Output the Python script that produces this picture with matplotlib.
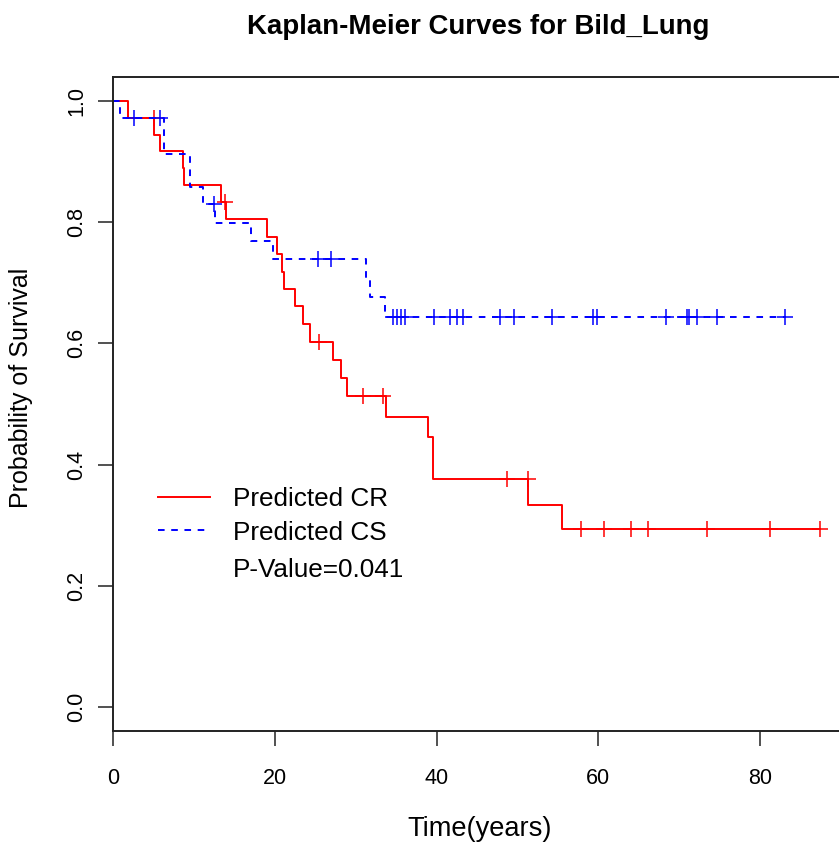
import matplotlib
matplotlib.use('Agg')
import matplotlib.pyplot as plt
from matplotlib.lines import Line2D
import numpy as np

plt.rcParams['font.family'] = ['Liberation Sans', 'DejaVu Sans']

# Predicted CR (red, solid): step times and survival after each step
cr_times = [0, 1.85, 5.1, 5.77, 8.6, 8.73, 13.35, 13.97, 19.0, 20.25, 20.95, 21.15,
            22.5, 23.5, 24.3, 27.2, 28.2, 28.9, 33.8, 38.9, 39.6, 51.3, 55.45]
cr_surv = [1.0, 0.972, 0.944, 0.917, 0.889, 0.861, 0.833, 0.805, 0.776, 0.747, 0.718, 0.690,
           0.661, 0.632, 0.603, 0.573, 0.543, 0.513, 0.479, 0.445, 0.376, 0.334, 0.293]
cr_end = 87.35
cr_censor = [5.1, 13.9, 25.5, 30.9, 33.4, 48.7, 51.3, 57.9, 60.7, 64.0, 66.1, 73.4, 81.2, 87.35]

# Predicted CS (blue, dashed)
cs_times = [0, 0.9, 6.3, 9.47, 11.08, 12.55, 17.05, 19.77, 31.3, 31.8, 33.57]
cs_surv = [1.0, 0.972, 0.913, 0.858, 0.830, 0.798, 0.769, 0.739, 0.708, 0.677, 0.643]
cs_end = 83.1
cs_censor = [2.55, 5.85, 12.44, 25.4, 26.95, 34.65, 35.05, 35.55, 36.1, 39.7, 41.65, 42.5,
             43.25, 47.8, 49.55, 54.25, 59.3, 59.8, 68.3, 70.9, 71.2, 72.15, 74.7, 83.1]

W, H = 839, 843


def fx(x):
    return x / W


def fy(y):
    return 1 - y / H


def km_line(ax, times, surv, end, censor, color, ls):
    t = list(times) + [end]
    s = list(surv) + [surv[-1]]
    ax.step(t, s, where='post', color=color, lw=1.4, linestyle=ls)
    idx = np.searchsorted(times, censor, side='left') - 1
    cy = np.array(surv)[idx]
    ax.plot(censor, cy, linestyle='none', marker='+', ms=12, mew=1.1, color=color)


fig = plt.figure(figsize=(W / 100, H / 100), dpi=100)
ax = fig.add_axes([fx(113), fy(731), (848 - 113) / W, (731 - 77) / H])

km_line(ax, cr_times, cr_surv, cr_end, cr_censor, '#ff0000', '-')
km_line(ax, cs_times, cs_surv, cs_end, cs_censor, '#0000ff', (0, (3.4, 3.4)))

ax.set_xlim(0, 90.86)
ax.set_ylim(-0.0396, 1.0396)
ax.set_xticks([0, 20, 40, 60, 80])
ax.set_yticks([0.0, 0.2, 0.4, 0.6, 0.8, 1.0])
ax.set_yticklabels(['0.0', '0.2', '0.4', '0.6', '0.8', '1.0'], rotation=90, va='center')
ax.tick_params(axis='both', length=10.5, width=1.1, labelsize=15.5, color='#222222')
ax.tick_params(axis='x', pad=16)
ax.tick_params(axis='y', pad=8)
for sp in ax.spines.values():
    sp.set_linewidth(1.4)
    sp.set_color('#222222')

fig.text(fx(478), fy(27), 'Kaplan-Meier Curves for Bild_Lung', ha='center', va='center',
         fontsize=19.9, fontweight='bold')
fig.text(fx(480), fy(829), 'Time(years)', ha='center', va='center', fontsize=19.6)
fig.text(fx(21), fy(388), 'Probability of Survival', ha='center', va='center',
         fontsize=18, rotation=90)

# legend drawn by hand
fig.add_artist(Line2D([fx(158), fx(210)], [fy(497), fy(497)], transform=fig.transFigure,
                      color='#ff0000', lw=1.4))
fig.add_artist(Line2D([fx(158), fx(210)], [fy(530), fy(530)], transform=fig.transFigure,
                      color='#0000ff', lw=1.4, linestyle=(0, (3.4, 3.4))))
fig.text(fx(233), fy(499), 'Predicted CR', ha='left', va='center', fontsize=18.8)
fig.text(fx(233), fy(533), 'Predicted CS', ha='left', va='center', fontsize=18.8)
fig.text(fx(233), fy(570), 'P-Value=0.041', ha='left', va='center', fontsize=18.8)

fig.savefig('out.png', dpi=100)
plt.close()
